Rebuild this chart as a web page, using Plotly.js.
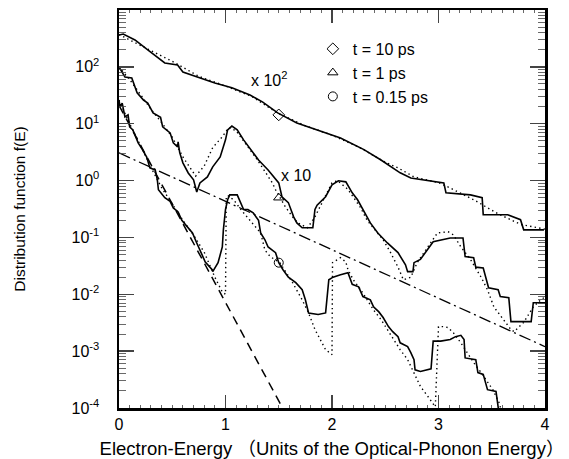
<!DOCTYPE html>
<html>
<head>
<meta charset="utf-8">
<script src="https://cdn.plot.ly/plotly-3.0.1.min.js"></script>
<style>html,body{margin:0;padding:0;background:#fff;}#chart{width:569px;height:459px;}</style>
</head>
<body>
<div id="chart"></div>
<script>
// ---- t = 10 ps (scaled x 10^2) ----
const e_sol1 = [0, 0.04, 0.15, 0.23, 0.27, 0.43, 0.55, 0.60, 0.75, 0.90, 1.06, 1.23, 1.35, 1.49, 1.67, 1.86, 2.08, 2.30, 2.46, 2.64, 2.74, 3.05, 3.07, 3.30, 3.41, 3.42, 3.65, 3.77, 3.80, 3.99];
const f_sol1 = [364, 378, 297, 224, 198, 117, 108, 81, 64, 52, 43, 32, 24, 15.5, 10.3, 7.8, 5.6, 3.5, 2.3, 1.37, 1.11, 0.91, 0.61, 0.56, 0.50, 0.25, 0.25, 0.205, 0.136, 0.136];
const e_dot1 = [0, 0.1, 0.25, 0.5, 0.75, 1.0, 1.25, 1.5, 1.75, 2.0, 2.25, 2.5, 2.62, 2.77, 3.0, 3.11, 3.33, 3.56, 3.77, 4.0];
const f_dot1 = [370, 300, 215, 125, 68, 46, 30, 15, 9.2, 6.3, 3.9, 2.1, 1.67, 1.16, 0.92, 0.74, 0.46, 0.26, 0.17, 0.14];

// ---- t = 1 ps (scaled x 10) ----
const e_sol2 = [0, 0.056, 0.12, 0.17, 0.23, 0.27, 0.32, 0.39, 0.41, 0.48, 0.51, 0.55, 0.555, 0.57, 0.60, 0.65, 0.70, 0.73, 0.76, 0.83, 0.88, 0.95, 1.0, 1.02, 1.06, 1.11, 1.17, 1.26, 1.31, 1.40, 1.50, 1.53, 1.59, 1.64, 1.67, 1.72, 1.82, 1.84, 1.86, 1.94, 2.0, 2.06, 2.13, 2.19, 2.24, 2.36, 2.43, 2.52, 2.62, 2.69, 2.71, 2.76, 2.77, 2.83, 2.88, 2.95, 3.11, 3.23, 3.25, 3.33, 3.35, 3.42, 3.47, 3.56, 3.58, 3.66, 3.68, 3.87, 3.89, 4.0];
const f_sol2 = [100, 66, 64, 35, 26, 23, 15.5, 13, 8.8, 6.9, 4.6, 3.9, 4.8, 3.1, 2.05, 1.36, 1.03, 0.63, 0.91, 1.16, 1.74, 2.6, 5.2, 7.8, 9.1, 7.8, 5.2, 3.07, 2.3, 1.54, 0.91, 0.52, 0.41, 0.23, 0.18, 0.148, 0.148, 0.31, 0.37, 0.52, 0.84, 0.99, 0.95, 0.61, 0.46, 0.18, 0.12, 0.080, 0.054, 0.033, 0.025, 0.025, 0.036, 0.041, 0.056, 0.084, 0.098, 0.098, 0.046, 0.044, 0.030, 0.029, 0.013, 0.012, 0.0091, 0.0087, 0.0033, 0.0033, 0.0071, 0.0071];
const e_dot2 = [0, 0.1, 0.2, 0.3, 0.4, 0.5, 0.6, 0.72, 0.8, 0.88, 0.97, 1.03, 1.1, 1.2, 1.3, 1.44, 1.47, 1.56, 1.63, 1.68, 1.77, 1.84, 1.91, 2.0, 2.05, 2.15, 2.27, 2.33, 2.48, 2.55, 2.62, 2.66, 2.67, 2.74, 2.80, 2.90, 2.99, 3.09, 3.14, 3.21, 3.30, 3.40, 3.46, 3.52, 3.61, 3.68, 3.71, 3.80, 3.89, 3.96, 4.0];
const f_dot2 = [100, 60, 33, 18, 10.5, 5.8, 2.6, 1.2, 1.8, 3.8, 5.9, 8.5, 7.5, 4.2, 2.3, 0.91, 0.69, 0.35, 0.23, 0.18, 0.148, 0.23, 0.41, 0.91, 1.0, 0.7, 0.33, 0.20, 0.091, 0.054, 0.030, 0.020, 0.018, 0.020, 0.036, 0.068, 0.12, 0.126, 0.111, 0.068, 0.041, 0.020, 0.012, 0.0060, 0.0035, 0.0024, 0.0022, 0.0032, 0.0060, 0.0080, 0.009];

// ---- t = 0.15 ps ----
const e_sol3 = [0, 0.01, 0.03, 0.056, 0.085, 0.10, 0.13, 0.18, 0.22, 0.26, 0.29, 0.34, 0.36, 0.37, 0.43, 0.48, 0.51, 0.555, 0.59, 0.64, 0.69, 0.73, 0.78, 0.81, 0.875, 0.88, 0.93, 0.97, 0.98, 1.0, 1.02, 1.04, 1.11, 1.14, 1.17, 1.21, 1.26, 1.31, 1.33, 1.37, 1.40, 1.47, 1.50, 1.54, 1.59, 1.66, 1.72, 1.75, 1.78, 1.87, 1.94, 1.97, 2.01, 2.08, 2.15, 2.19, 2.25, 2.29, 2.36, 2.39, 2.44, 2.48, 2.53, 2.57, 2.62, 2.64, 2.71, 2.74, 2.77, 2.78, 2.83, 2.93, 2.95, 3.02, 3.11, 3.16, 3.21, 3.24, 3.25, 3.35, 3.37, 3.42, 3.46, 3.54, 3.56, 3.57];
const f_sol3 = [26, 19.7, 23, 13.2, 14.3, 8.8, 7.8, 4.6, 3.5, 2.6, 1.67, 1.54, 1.03, 0.69, 0.50, 0.43, 0.33, 0.28, 0.20, 0.155, 0.12, 0.080, 0.049, 0.037, 0.027, 0.025, 0.036, 0.068, 0.136, 0.31, 0.46, 0.56, 0.56, 0.41, 0.31, 0.31, 0.27, 0.20, 0.12, 0.091, 0.068, 0.054, 0.036, 0.027, 0.020, 0.016, 0.012, 0.0080, 0.0047, 0.0044, 0.0047, 0.018, 0.020, 0.022, 0.024, 0.015, 0.0135, 0.0091, 0.0080, 0.0060, 0.0049, 0.0039, 0.0027, 0.0022, 0.0018, 0.0014, 0.0012, 0.00094, 0.00071, 0.00047, 0.00044, 0.00049, 0.0015, 0.0015, 0.0016, 0.0018, 0.0019, 0.0016, 0.00076, 0.00071, 0.00042, 0.00039, 0.00021, 0.000195, 0.000105, 0.000076];
const e_dot3 = [0, 0.1, 0.2, 0.3, 0.4, 0.5, 0.6, 0.7, 0.8, 0.9, 0.97, 1.0, 1.007, 1.02, 1.08, 1.15, 1.33, 1.37, 1.42, 1.51, 1.63, 1.72, 1.78, 1.84, 1.89, 1.94, 2.0, 2.005, 2.08, 2.13, 2.15, 2.20, 2.27, 2.33, 2.39, 2.46, 2.52, 2.58, 2.64, 2.71, 2.77, 2.83, 2.90, 2.94, 2.97, 3.0, 3.05, 3.09, 3.14, 3.21, 3.27, 3.33, 3.40, 3.46, 3.51, 3.57, 3.58, 3.61];
const f_dot3 = [26, 10, 4.2, 1.7, 0.75, 0.38, 0.2, 0.11, 0.055, 0.020, 0.011, 0.010, 0.50, 0.55, 0.45, 0.30, 0.12, 0.06, 0.046, 0.036, 0.016, 0.0080, 0.0047, 0.0024, 0.0016, 0.00106, 0.00087, 0.036, 0.044, 0.037, 0.027, 0.018, 0.012, 0.0080, 0.0053, 0.0036, 0.0024, 0.0016, 0.00106, 0.00071, 0.00042, 0.00024, 0.00016, 0.000123, 0.000105, 0.0027, 0.0027, 0.0026, 0.0021, 0.0014, 0.00094, 0.00063, 0.00042, 0.00028, 0.00021, 0.000123, 0.000105, 0.00008];

// ---- reference lines ----
const e_dashdot = [0, 4];
const f_dashdot = [3.07, 0.0012];
const e_dashed = [0, 1.6];
const f_dashed = [21, 0.00006];

// ---- markers ----
const e_mark = [1.5, 1.5, 1.5];
const f_mark = [14.3, 0.5, 0.036];
const mark_names = ['t = 10 ps', 't = 1 ps', 't = 0.15 ps'];
const mark_symbols = ['diamond-open', 'triangle-up-open', 'circle-open'];

// ---- axes ----
const y_tickvals = [1e-4, 1e-3, 1e-2, 1e-1, 1e0, 1e1, 1e2, 1e3];
const y_ticktext = ['10<sup>-4</sup>', '10<sup>-3</sup>', '10<sup>-2</sup>', '10<sup>-1</sup>', '10<sup>0</sup>', '10<sup>1</sup>', '10<sup>2</sup>', '10<sup>3</sup>'];
const x_tickvals = [0, 1, 2, 3, 4];

const FONT = 'Liberation Sans, Arial, Helvetica, "Noto Sans CJK JP", sans-serif';
const solid = {color: '#000', width: 1.6};
const dotted = {color: '#000', width: 1.4, dash: '1.4px,3.2px'};

const traces = [
  {x: e_dot1, y: f_dot1, mode: 'lines', line: dotted, showlegend: false, hoverinfo: 'skip'},
  {x: e_sol1, y: f_sol1, mode: 'lines', line: solid, showlegend: false},
  {x: e_dot2, y: f_dot2, mode: 'lines', line: dotted, showlegend: false, hoverinfo: 'skip'},
  {x: e_sol2, y: f_sol2, mode: 'lines', line: solid, showlegend: false},
  {x: e_dot3, y: f_dot3, mode: 'lines', line: dotted, showlegend: false, hoverinfo: 'skip'},
  {x: e_sol3, y: f_sol3, mode: 'lines', line: solid, showlegend: false},
  {x: e_dashdot, y: f_dashdot, mode: 'lines', line: {color: '#000', width: 1.3, dash: '12px,4px,2px,4px'}, showlegend: false},
  {x: e_dashed, y: f_dashed, mode: 'lines', line: {color: '#000', width: 1.5, dash: '9px,6px'}, showlegend: false}
];
for (let i = 0; i < 3; i++) {
  traces.push({x: [e_mark[i]], y: [f_mark[i]], mode: 'markers', name: mark_names[i],
    marker: {symbol: mark_symbols[i], size: 9, color: '#000', line: {width: 1, color: '#000'}}});
}

const layout = {
  width: 569, height: 459,
  margin: {l: 119, r: 24, t: 10, b: 51},
  paper_bgcolor: '#fff', plot_bgcolor: '#fff',
  font: {family: FONT, size: 15, color: '#000'},
  showlegend: true,
  legend: {x: 0.455, y: 0.945, xanchor: 'left', yanchor: 'top', bgcolor: 'rgba(0,0,0,0)',
    font: {size: 16}, itemwidth: 30, tracegroupgap: 0},
  xaxis: {
    range: [0, 4], tickmode: 'array', tickvals: x_tickvals, ticks: 'inside', ticklen: 13, tickwidth: 1.3,
    showline: true, linewidth: 2.5, linecolor: '#000', mirror: 'ticks', showgrid: false, zeroline: false,
    tickfont: {size: 16},
    minor: {dtick: 0.1, ticks: 'inside', ticklen: 3, tickwidth: 0.8, showgrid: false},
    title: {text: 'Electron-Energy （Units of the Optical-Phonon Energy）', font: {size: 18.5}, standoff: 13}
  },
  yaxis: {
    type: 'log', range: [-4, 3], tickmode: 'array', tickvals: y_tickvals, ticktext: y_ticktext,
    ticks: 'inside', ticklen: 15, tickwidth: 1.3, ticklabelstandoff: 14,
    showline: true, linewidth: 2.5, linecolor: '#000', mirror: 'ticks', showgrid: false, zeroline: false,
    tickfont: {size: 16},
    minor: {dtick: 'D1', ticks: 'inside', ticklen: 7, tickwidth: 0.8, showgrid: false},
    title: {text: 'Distribution function f(E)', font: {size: 15.5}, standoff: 42}
  },
  annotations: [
    {x: 1.41, y: Math.log10(62), xref: 'x', yref: 'y', text: 'x 10<sup>2</sup>', showarrow: false, font: {size: 16}, xanchor: 'center', yanchor: 'middle'},
    {x: 1.66, y: Math.log10(1.21), xref: 'x', yref: 'y', text: 'x 10', showarrow: false, font: {size: 16}, xanchor: 'center', yanchor: 'middle'}
  ]
};

Plotly.newPlot('chart', traces, layout, {displayModeBar: false, staticPlot: true});
</script>
</body>
</html>
